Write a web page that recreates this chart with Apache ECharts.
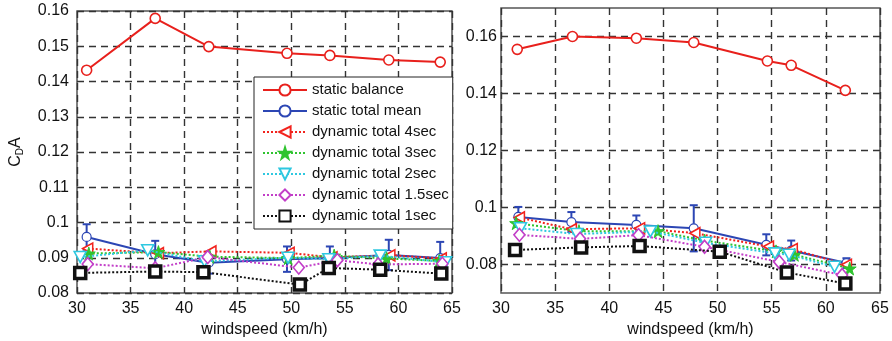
<!DOCTYPE html>
<html><head><meta charset="utf-8">
<script src="https://cdn.jsdelivr.net/npm/echarts@6/dist/echarts.min.js"></script>
<style>html,body{margin:0;padding:0;background:#fff}#c{width:892px;height:341px}</style>
</head><body><div id="c"></div>
<script>
// ---- data ----
const seriesNames = ['static balance','static total mean','dynamic total 4sec','dynamic total 3sec','dynamic total 2sec','dynamic total 1.5sec','dynamic total 1sec'];
const xTicks = [30,35,40,45,50,55,60,65];
const rightYTicks = [0.08,0.10,0.12,0.14,0.16];

const leftStaticBalance = [[30.9,0.1432],[37.3,0.1579],[42.3,0.1499],[49.6,0.1480],[53.6,0.1474],[59.1,0.1461],[63.9,0.1455]];
const leftStaticMean = [[30.9,0.0959],[37.3,0.0910],[42.3,0.0886],[49.6,0.0896],[53.6,0.0899],[59.1,0.0908],[63.9,0.0899]];
const leftStaticMeanErr = [0.0036,0.0038,0.0031,0.0036,0.0033,0.0043,0.0046];
const left4sec = [[31.0,0.0926],[37.6,0.0913],[42.5,0.0918],[49.8,0.0914],[53.8,0.0901],[59.2,0.0907],[64.0,0.0898]];
const left3sec = [[31.1,0.0912],[37.6,0.0916],[42.4,0.0903],[49.7,0.0899],[54.0,0.0906],[58.9,0.0898],[63.8,0.0891]];
const left2sec = [[30.3,0.0902],[36.6,0.0921],[41.9,0.0890],[49.7,0.0900],[53.5,0.0896],[58.3,0.0906],[64.4,0.0887]];
const left15sec = [[31.0,0.0882],[37.3,0.0870],[42.2,0.0902],[50.7,0.0872],[54.3,0.0893],[58.1,0.0881],[64.1,0.0883]];
const left1sec = [[30.3,0.0857],[37.3,0.0861],[41.8,0.0859],[50.8,0.0824],[53.5,0.0871],[58.3,0.0866],[64.0,0.0855]];

const rightStaticBalance = [[31.5,0.1555],[36.6,0.1600],[42.5,0.1594],[47.8,0.1579],[54.6,0.1514],[56.8,0.1499],[61.8,0.1411]];
const rightStaticMean = [[31.6,0.0967],[36.5,0.0949],[42.5,0.0939],[47.8,0.0927],[54.5,0.0869],[56.8,0.0849],[61.9,0.0805]];
const rightStaticMeanErr = [0.0035,0.0035,0.0033,0.0081,0.0037,0.0035,0.0017];
const right4sec = [[31.7,0.0965],[36.5,0.0924],[42.8,0.0927],[47.9,0.0910],[54.7,0.0863],[56.9,0.0854],[61.9,0.0799]];
const right3sec = [[31.4,0.0945],[37.2,0.0917],[44.5,0.0917],[48.8,0.0884],[55.4,0.0846],[57.1,0.0834],[62.2,0.0786]];
const right2sec = [[31.8,0.0927],[37.0,0.0907],[43.8,0.0916],[48.9,0.0876],[55.3,0.0839],[56.6,0.0834],[60.8,0.0792]];
const right15sec = [[31.7,0.0904],[37.3,0.0890],[42.7,0.0903],[48.8,0.0862],[55.7,0.0809],[61.5,0.0763]];
const right1sec = [[31.3,0.0851],[37.4,0.0860],[42.8,0.0865],[50.2,0.0845],[56.4,0.0772],[61.8,0.0733]];

// ---- styles ----
const FONT = '"Liberation Sans", Arial, sans-serif';
const TXT = '#111';
const styles = [
  {color:'#e8201c', type:'solid', symbol:'circle', size:10, fill:'#fff', bw:1.6, lw:2},
  {color:'#2c46b4', type:'solid', symbol:'circle', size:9, fill:'#fff', bw:1.2, lw:2},
  {color:'#f2231d', type:[2,2], symbol:'path://M0,50 L100,0 L100,100 Z', size:[10,11], fill:'#fff', bw:1.6, lw:2},
  {color:'#2fc42f', type:[2,2], symbol:'path://M50,0 L61,35 L98,35 L68,57 L79,91 L50,70 L21,91 L32,57 L2,35 L39,35 Z', size:13, fill:'#2fc42f', bw:1, lw:2},
  {color:'#2ec8e0', type:[2,2], symbol:'path://M0,0 L100,0 L50,100 Z', size:[12,11], fill:'#fff', bw:1.6, lw:2},
  {color:'#c23ec8', type:[2,2], symbol:'diamond', size:[11,13], fill:'#fff', bw:1.6, lw:2},
  {color:'#111', type:[2,2], symbol:'rect', size:11, fill:'#fff', bw:3.5, lw:2}
];
const leftData = [leftStaticBalance,leftStaticMean,left4sec,left3sec,left2sec,left15sec,left1sec];
const rightData = [rightStaticBalance,rightStaticMean,right4sec,right3sec,right2sec,right15sec,right1sec];

function lineSeries(i, data, axisIdx){
  const s = styles[i];
  return {
    type:'line', name:seriesNames[i], data:data, xAxisIndex:axisIdx, yAxisIndex:axisIdx,
    symbol:s.symbol, symbolSize:s.size, showAllSymbol:true, animation:false,
    lineStyle:{color:s.color, width:s.lw, type:s.type},
    itemStyle:{color:s.fill, borderColor:s.color, borderWidth:s.bw},
    z: 3 + i
  };
}
function errSeries(points, errs, axisIdx){
  return {
    type:'custom', name:'err'+axisIdx, xAxisIndex:axisIdx, yAxisIndex:axisIdx, animation:false, z:4,
    data: points.map((p,k)=>[p[0], p[1], errs[k]]),
    renderItem:function(params, api){
      const x = api.value(0), y = api.value(1), e = api.value(2);
      const top = api.coord([x, y+e]), bot = api.coord([x, y-e]);
      const hw = 4;
      const st = {stroke:'#2c46b4', lineWidth:2};
      return {type:'group', children:[
        {type:'line', shape:{x1:top[0],y1:top[1],x2:bot[0],y2:bot[1]}, style:st},
        {type:'line', shape:{x1:top[0]-hw,y1:top[1],x2:top[0]+hw,y2:top[1]}, style:st},
        {type:'line', shape:{x1:bot[0]-hw,y1:bot[1],x2:bot[0]+hw,y2:bot[1]}, style:st}
      ]};
    }
  };
}

const dash = {color:'#333', width:1.4, type:[7,5]};
function xAxis(gi){
  return {type:'value', gridIndex:gi, min:30, max:65, interval:5,
    name:'windspeed (km/h)', nameLocation:'middle', nameGap:29,
    nameTextStyle:{fontFamily:FONT, fontSize:16, color:TXT},
    axisLine:{show:false}, axisTick:{show:false},
    axisLabel:{fontFamily:FONT, fontSize:16, color:TXT, margin:8, showMinLabel:true, showMaxLabel:true},
    splitLine:{show:true, lineStyle:dash}};
}

const option = {
  animation:false,
  textStyle:{fontFamily:FONT},
  grid:[
    {left:77, right:440, top:11, bottom:48, show:true, borderColor:'#555', borderWidth:1.5, backgroundColor:'#fff', outerBoundsMode:'none', containLabel:false},
    {left:501, right:12, top:8, bottom:48, show:true, borderColor:'#555', borderWidth:1.5, backgroundColor:'#fff', outerBoundsMode:'none', containLabel:false}
  ],
  xAxis:[xAxis(0), xAxis(1)],
  yAxis:[
    {type:'value', gridIndex:0, min:0.08, max:0.16, interval:0.01,
     name:'C{sub|D}A', nameLocation:'middle', nameGap:52, nameRotate:90,
     nameTextStyle:{fontFamily:FONT, fontSize:16, color:TXT, rich:{sub:{fontFamily:FONT, fontSize:10, color:TXT, padding:[8,0,0,0]}}},
     axisLine:{show:false}, axisTick:{show:false},
     axisLabel:{fontFamily:FONT, fontSize:16, color:TXT, margin:8},
     splitLine:{show:true, lineStyle:dash}},
    {type:'value', gridIndex:1, min:0.07, max:0.17,
     axisLine:{show:false},
     axisTick:{show:false, customValues:rightYTicks},
     axisLabel:{fontFamily:FONT, fontSize:16, color:TXT, margin:4, customValues:rightYTicks,
       formatter:v=>String(parseFloat(v.toFixed(3)))},
     splitLine:{show:true, lineStyle:dash}}
  ],
  legend:{
    data:seriesNames, orient:'vertical', left:254, top:77,
    padding:[5,4,5,8], itemWidth:44, itemHeight:14, itemGap:5,
    backgroundColor:'#fff', borderColor:'#222', borderWidth:1, borderRadius:0,
    textStyle:{fontFamily:FONT, fontSize:15, color:TXT, lineHeight:16}, selectedMode:false, z:20
  },
  series:[]
};
for (let i=0;i<7;i++) option.series.push(lineSeries(i, leftData[i], 0));
option.series.push(errSeries(leftStaticMean, leftStaticMeanErr, 0));
for (let i=0;i<7;i++) option.series.push(lineSeries(i, rightData[i], 1));
option.series.push(errSeries(rightStaticMean, rightStaticMeanErr, 1));

const chart = echarts.init(document.getElementById('c'), null, {renderer:'canvas'});
chart.setOption(option);
</script></body></html>
